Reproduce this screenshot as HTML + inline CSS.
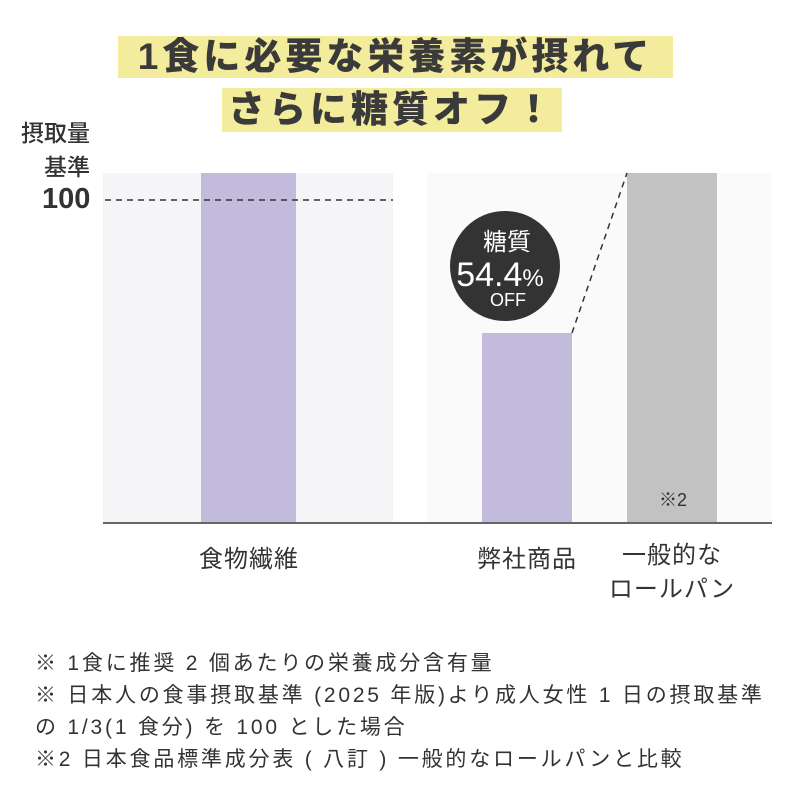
<!DOCTYPE html><html><head><meta charset="utf-8"><style>
body{margin:0;width:800px;height:800px;background:#fff;position:relative;overflow:hidden;font-family:"Liberation Sans","Noto Sans CJK JP",sans-serif;color:#333}
.a{position:absolute}
.t{background:#f3ec9c;font-weight:900;font-size:37px;letter-spacing:4px;line-height:42px;text-align:center;color:#3a3a3a;white-space:nowrap}
.c{font-size:24px;text-align:center;color:#333;letter-spacing:1px}
.f{font-size:21px;left:35px;color:#333;white-space:nowrap;letter-spacing:2.8px}
</style></head><body>
<div class="a t" style="left:118px;top:36px;width:555px;height:42px">1食に必要な栄養素が摂れて</div>
<div class="a t" style="left:222px;top:88px;width:340px;height:44px;line-height:44px">さらに糖質オフ！</div>
<div class="a" style="right:710px;top:116px;font-size:23px;line-height:34px;text-align:right;font-weight:500">摂取量<br>基準</div>
<div class="a" style="left:42px;top:183px;font-size:29px;font-weight:bold">100</div>
<svg class="a" style="left:0;top:0" width="800" height="800">
<rect x="103" y="173" width="290" height="350" fill="#f5f5f8"/>
<rect x="427" y="173" width="345" height="350" fill="#fafafa"/>
<rect x="201" y="173" width="95" height="350" fill="#c2bbdb"/>
<line x1="105" y1="200" x2="393" y2="200" stroke="#333" stroke-width="1.5" stroke-dasharray="6,5"/>
<rect x="482" y="333" width="90" height="190" fill="#c2bbdb"/>
<rect x="627" y="173" width="90" height="350" fill="#c2c2c2"/>
<line x1="572" y1="333" x2="627" y2="173" stroke="#333" stroke-width="1.5" stroke-dasharray="6,5"/>
<line x1="103" y1="523" x2="772" y2="523" stroke="#666" stroke-width="2"/>
<circle cx="505" cy="266" r="55" fill="#333"/>
<text x="507" y="250" fill="#fff" font-size="24" text-anchor="middle" font-family="Noto Sans CJK JP,sans-serif">糖質</text>
<text x="500" y="286" fill="#fff" font-size="34" text-anchor="middle" font-family="Liberation Sans,sans-serif">54.4<tspan font-size="24">%</tspan></text>
<text x="508" y="306" fill="#fff" font-size="18" text-anchor="middle" font-family="Liberation Sans,sans-serif">OFF</text>
<text x="673" y="506" fill="#333" font-size="18" text-anchor="middle">※2</text>
</svg>
<div class="a c" style="left:179px;top:539px;width:140px">食物繊維</div>
<div class="a c" style="left:457px;top:539px;width:140px">弊社商品</div>
<div class="a c" style="left:597px;top:539px;width:150px;line-height:34px">一般的な<br>ロールパン</div>
<div class="a f" style="top:647px">※ 1食に推奨 2 個あたりの栄養成分含有量</div>
<div class="a f" style="top:679px">※ 日本人の食事摂取基準 (2025 年版)より成人女性 1 日の摂取基準</div>
<div class="a f" style="top:711px">の 1/3(1 食分) を 100 とした場合</div>
<div class="a f" style="top:743px">※2 日本食品標準成分表 ( 八訂 ) 一般的なロールパンと比較</div>
</body></html>
